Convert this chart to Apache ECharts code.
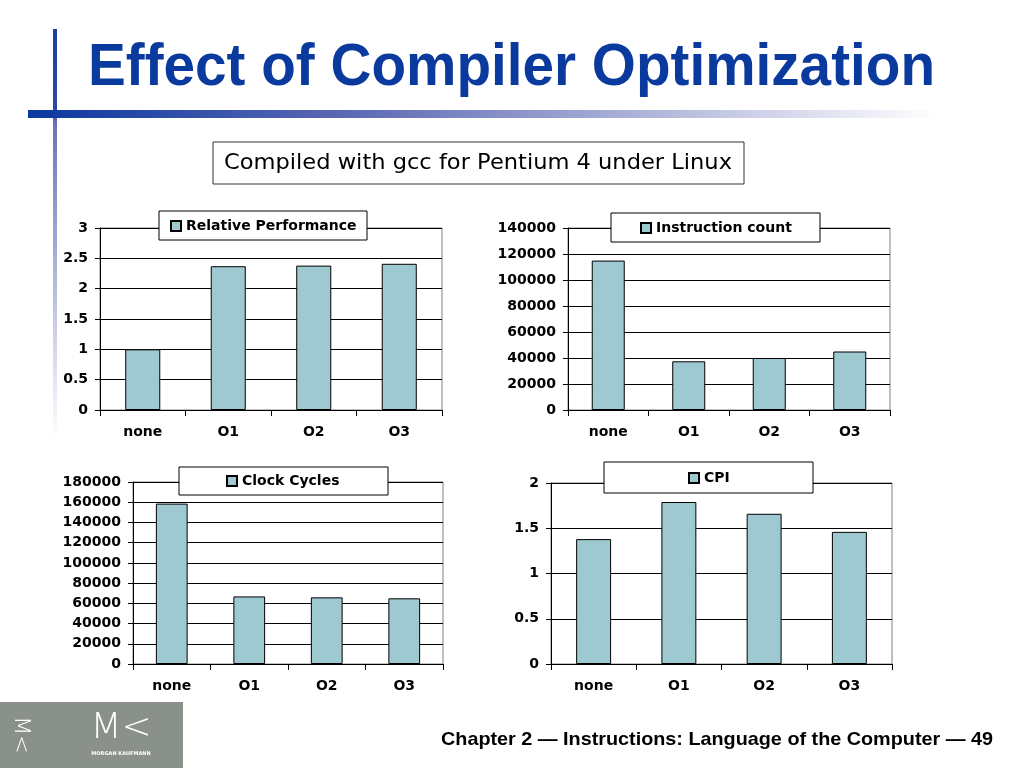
<!DOCTYPE html>
<html>
<head>
<meta charset="utf-8">
<script src="https://cdn.jsdelivr.net/npm/echarts@6/dist/echarts.min.js"></script>
<style>
html,body{margin:0;padding:0;background:#fff;}
#chart{width:1024px;height:768px;}
</style>
</head>
<body>
<div id="chart"></div>
<script>
// ---- data ----
const categories = ['none', 'O1', 'O2', 'O3'];
const relPerfName = 'Relative Performance';
const relPerf = [1, 2.37, 2.38, 2.41];
const instrName = 'Instruction count';
const instrCount = [114938, 37470, 39993, 44993];
const clockName = 'Clock Cycles';
const clockCycles = [158615, 66824, 65910, 64938];
const cpiName = 'CPI';
const cpi = [1.38, 1.79, 1.66, 1.46];
// y-axis scales: [max, interval]
const relPerfAxis = [3, 0.5];
const instrAxis = [140000, 20000];
const clockAxis = [180000, 20000];
const cpiAxis = [2, 0.5];

const titleText = 'Effect of Compiler Optimization';
const subtitleText = 'Compiled with gcc for Pentium 4 under Linux';
const footerText = 'Chapter 2 \u2014 Instructions: Language of the Computer \u2014 49';

// ---- layout ----
const panels = [
  {name: relPerfName, data: relPerf, axis: relPerfAxis, grid: {left: 100, top: 228, width: 342, height: 182}, box: [159, 211, 208, 29], legend: {left: 170, top: 219}},
  {name: instrName, data: instrCount, axis: instrAxis, grid: {left: 568, top: 228, width: 322, height: 182}, box: [611, 213, 209, 29], legend: {left: 640, top: 221}},
  {name: clockName, data: clockCycles, axis: clockAxis, grid: {left: 133, top: 482, width: 310, height: 182}, box: [179, 467, 209, 28], legend: {left: 226, top: 474}},
  {name: cpiName, data: cpi, axis: cpiAxis, grid: {left: 551, top: 483, width: 341, height: 181}, box: [604, 462, 209, 31], legend: {left: 688, top: 471}}
];

const measureCtx = document.createElement('canvas').getContext('2d');
function fitScale(text, font, target) {
  measureCtx.font = font;
  return target / measureCtx.measureText(text).width;
}

const axisFont = 'DejaVu Sans';
const barColor = '#9fc9d1';

const grids = [], xAxes = [], yAxes = [], series = [], legends = [], graphics = [];
panels.forEach((p, i) => {
  grids.push(Object.assign({show: true, borderColor: '#808080', borderWidth: 1, backgroundColor: 'transparent'}, p.grid));
  xAxes.push({
    type: 'category', gridIndex: i, data: categories,
    axisLine: {lineStyle: {color: '#000', width: 1}},
    axisTick: {show: true, length: 6, lineStyle: {color: '#000'}},
    axisLabel: {color: '#000', fontFamily: axisFont, fontWeight: 'bold', fontSize: 14, margin: 15},
    splitLine: {show: false}
  });
  yAxes.push({
    type: 'value', gridIndex: i, min: 0, max: p.axis[0], interval: p.axis[1],
    axisLine: {show: true, lineStyle: {color: '#000', width: 1}},
    axisTick: {show: true, length: 5, lineStyle: {color: '#000'}},
    axisLabel: {color: '#000', fontFamily: axisFont, fontWeight: 'bold', fontSize: 14, margin: 12,
      formatter: v => String(v)},
    splitLine: {show: true, lineStyle: {color: '#000', width: 1}}
  });
  series.push({
    type: 'bar', name: p.name, xAxisIndex: i, yAxisIndex: i, data: p.data,
    barWidth: '41%',
    itemStyle: {color: barColor, borderColor: '#000', borderWidth: 1},
    emphasis: {disabled: true}, animation: false
  });
  legends.push({
    data: [p.name], left: p.legend.left, top: p.legend.top, padding: 0,
    itemWidth: 10, itemHeight: 10, icon: 'rect', selectedMode: false,
    textStyle: {color: '#000', fontFamily: axisFont, fontWeight: 'bold', fontSize: 14},
    z: 20
  });
  graphics.push({
    type: 'rect', shape: {x: p.box[0], y: p.box[1], width: p.box[2], height: p.box[3]},
    style: {fill: '#fff', stroke: '#000', lineWidth: 1}, z: 10
  });
});

// decorations
const titleFont = 'bold 60px "Liberation Sans"';
const titleScale = fitScale(titleText, titleFont, 847);
const subFont = '21px "DejaVu Sans"';
const subScale = fitScale(subtitleText, subFont, 508);
const footFont = 'bold 19px "Liberation Sans"';
const footScale = fitScale(footerText, footFont, 552);

graphics.push(
  {type: 'rect', shape: {x: 53, y: 29, width: 4, height: 410}, z: 1,
   style: {fill: new echarts.graphic.LinearGradient(0, 0, 0, 1, [
     {offset: 0, color: '#1f3fa0'}, {offset: 0.2, color: '#2f48a6'},
     {offset: 0.23, color: '#6a74b8'}, {offset: 1, color: '#ffffff'}])}},
  {type: 'rect', shape: {x: 28, y: 110, width: 910, height: 8}, z: 1,
   style: {fill: new echarts.graphic.LinearGradient(0, 0, 1, 0, [
     {offset: 0, color: '#0a37a0'}, {offset: 0.35, color: '#5b68b3'},
     {offset: 0.7, color: '#b4b9dc'}, {offset: 1, color: '#ffffff'}])}},
  {type: 'text', x: 88, y: 68, scaleX: titleScale, z: 5,
   style: {text: titleText, font: titleFont, fill: '#0b3a9e', align: 'left', verticalAlign: 'middle'}},
  {type: 'rect', shape: {x: 213, y: 142, width: 531, height: 42}, z: 5,
   style: {fill: '#fff', stroke: '#333', lineWidth: 1}},
  {type: 'text', x: 478, y: 164, scaleX: subScale, z: 6,
   style: {text: subtitleText, font: subFont, fill: '#000', align: 'center', verticalAlign: 'middle'}},
  {type: 'rect', shape: {x: 0, y: 702, width: 183, height: 66}, z: 5,
   style: {fill: '#8a918a'}},
  {type: 'text', x: 121, y: 729, z: 6,
   style: {text: 'M<', font: '200 36px "DejaVu Sans"', fill: '#fff', align: 'center', verticalAlign: 'middle'}},
  {type: 'text', x: 121, y: 754, z: 6,
   style: {text: 'MORGAN KAUFMANN', font: 'bold 5px "DejaVu Sans"', fill: '#fff', align: 'center', verticalAlign: 'middle'}},
  {type: 'text', x: 21, y: 735, rotation: -Math.PI / 2, z: 6,
   style: {text: 'M<', font: '200 22px "DejaVu Sans"', fill: '#fff', align: 'center', verticalAlign: 'middle'}},
  {type: 'text', x: 441, y: 740, scaleX: footScale, z: 6,
   style: {text: footerText, font: footFont, fill: '#000', align: 'left', verticalAlign: 'middle'}}
);

const chart = echarts.init(document.getElementById('chart'), null, {renderer: 'canvas'});
chart.setOption({
  animation: false,
  backgroundColor: '#fff',
  grid: grids, xAxis: xAxes, yAxis: yAxes, series: series, legend: legends,
  graphic: graphics
});
</script>
</body>
</html>
